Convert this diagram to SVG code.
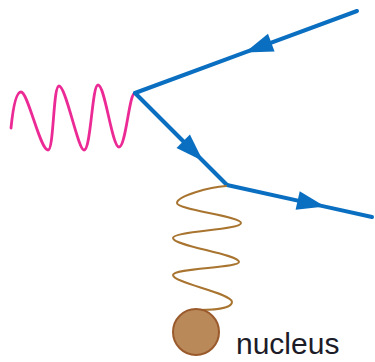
<svg xmlns="http://www.w3.org/2000/svg" width="375" height="362" viewBox="0 0 375 362">
<style>
.fermion{fill:none;stroke:#0b6fc1;stroke-width:4;stroke-linecap:round;stroke-linejoin:round;marker-mid:url(#arr)}
.photon{fill:none;stroke:#ec2a95;stroke-width:2.8;stroke-linecap:round}
.gluon{fill:none;stroke:#a8742f;stroke-width:2;stroke-linecap:round}
.label{font-family:"Liberation Sans",Arial,sans-serif;font-size:30px;fill:#1c1c28}
</style>
<defs>
<marker id="arr" markerUnits="userSpaceOnUse" orient="auto" markerWidth="40" markerHeight="40" refX="0" refY="0" viewBox="-30 -15 40 30" overflow="visible">
<path d="M0,0 L-28,-9.5 L-28,9.5 Z" fill="#0b6fc1"/>
</marker>
</defs>
<g id="connectors">
<path id="photon" class="photon" d="M11,128 C13,108 16,92 21,92 C28,92 40,150 48,150 C54,150 53,86 59,86 C66,86 78,150 84,150 C91,150 92,85 98,85 C105,85 112,147 119,147 C126,147 129,93 135,93"/>
<path id="incoming" class="fermion" d="M357,11 L245,52.4 L135,93"/>
<path id="internal" class="fermion" d="M135,93 L203,161 L227,185"/>
<path id="outgoing" class="fermion" d="M227,185 L325,206.6 L372,217"/>
<path id="gluon" class="gluon" d="M226,186 C210,187 177,196 177,203 C177,210 241,216 241,223 C241,230 173,231 173,238 C173,246 239,254 239,262 C239,268 173,268 173,275 C173,283 232,293 232,302 C232,308 215,310 200,310"/>
</g>
<g id="nucleus">
<circle cx="196" cy="332" r="23" fill="#b9895a" stroke="#9a5a2c" stroke-width="2"/>
<text class="label" x="236" y="354">nucleus</text>
</g>
</svg>
